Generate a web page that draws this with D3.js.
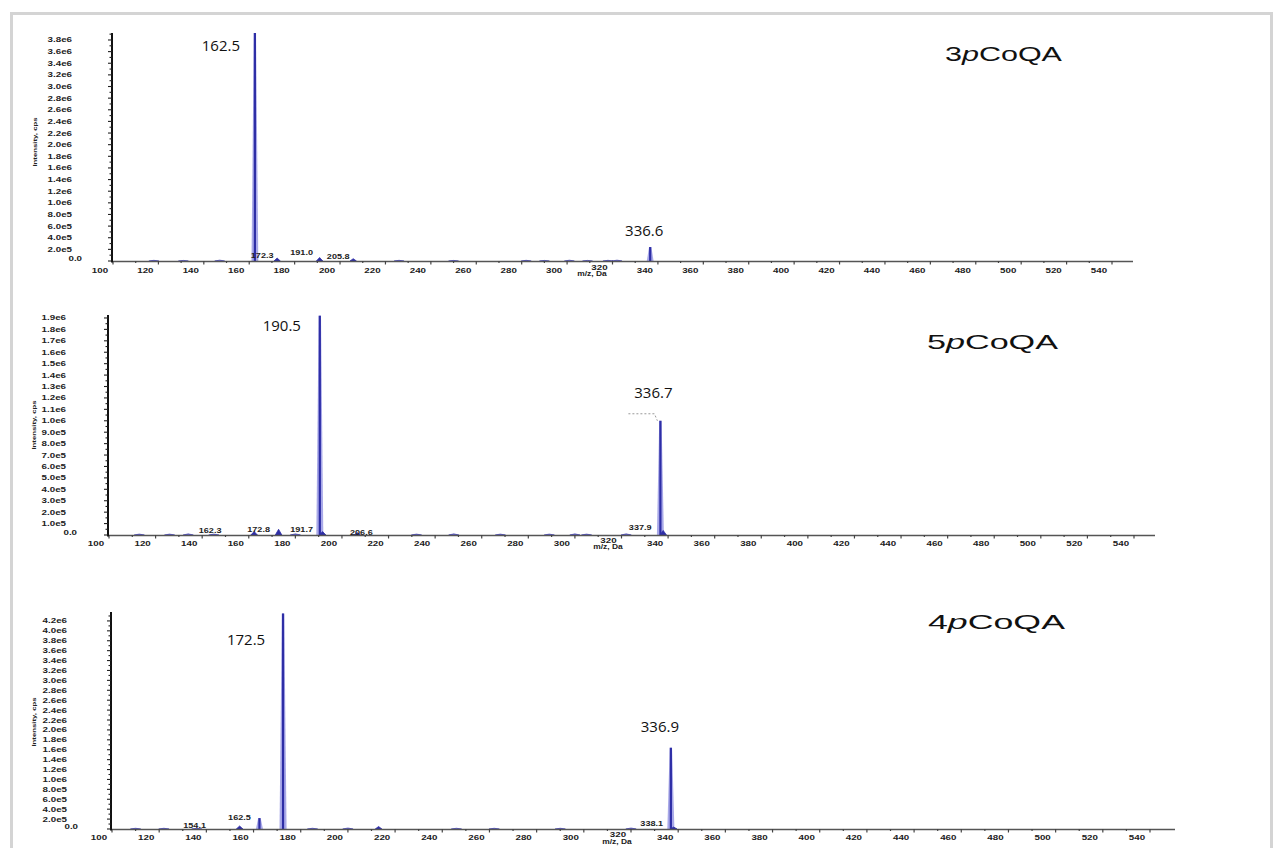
<!DOCTYPE html>
<html>
<head>
<meta charset="utf-8">
<script src="https://cdn.jsdelivr.net/npm/d3@7"></script>
<style>
  body { margin: 0; background: #fff; }
  svg { display: block; }
  .tick-label { font-family: "Liberation Sans", Arial, sans-serif; font-weight: bold; fill: #222; }
</style>
</head>
<body>
<svg id="chart" width="1277" height="848"></svg>
<script>
// ---- m/z axis (shared) ----
const mzTicks = [100,120,140,160,180,200,220,240,260,280,300,320,340,360,380,400,420,440,460,480,500,520,540];
const mzTickLabels = ["100","120","140","160","180","200","220","240","260","280","300","320","340","360","380","400","420","440","460","480","500","520","540"];

// ---- 3pCoQA ----
const mz3p  = [162.5, 172.3, 191.0, 205.8, 336.6];
const int3p = [3.92e6, 5.0e4, 6.0e4, 4.0e4, 2.4e5];
const noiseMz3p  = [118, 131, 147, 226, 250, 282, 290, 301, 309, 318, 322];
const noiseInt3p = [1.2e4, 1.0e4, 1.5e4, 1.2e4, 1.0e4, 1.2e4, 1.0e4, 1.4e4, 1.0e4, 1.2e4, 1.5e4];
const annot3p = [162.5, 336.6];
const small3p = [172.3, 191.0, 205.8];
const yTicks3p = [0,2e5,4e5,6e5,8e5,1.0e6,1.2e6,1.4e6,1.6e6,1.8e6,2.0e6,2.2e6,2.4e6,2.6e6,2.8e6,3.0e6,3.2e6,3.4e6,3.6e6,3.8e6];
const yLabels3p = ["0.0","2.0e5","4.0e5","6.0e5","8.0e5","1.0e6","1.2e6","1.4e6","1.6e6","1.8e6","2.0e6","2.2e6","2.4e6","2.6e6","2.8e6","3.0e6","3.2e6","3.4e6","3.6e6","3.8e6"];

// ---- 5pCoQA ----
const mz5p  = [162.3, 172.8, 190.5, 191.7, 206.6, 336.7, 337.9];
const int5p = [3.0e4, 5.0e4, 1.92e6, 3.0e4, 2.0e4, 1.0e6, 4.0e4];
const noiseMz5p  = [113, 126, 134, 145, 180, 232, 248, 268, 289, 300, 305, 322];
const noiseInt5p = [8e3, 8e3, 1.0e4, 8e3, 1.0e4, 8e3, 1.0e4, 8e3, 8e3, 1.0e4, 8e3, 1.0e4];
const annot5p = [190.5, 336.7];
const small5p = [162.3, 172.8, 191.7, 206.6, 337.9];
const yTicks5p = [0,1e5,2e5,3e5,4e5,5e5,6e5,7e5,8e5,9e5,1.0e6,1.1e6,1.2e6,1.3e6,1.4e6,1.5e6,1.6e6,1.7e6,1.8e6,1.9e6];
const yLabels5p = ["0.0","1.0e5","2.0e5","3.0e5","4.0e5","5.0e5","6.0e5","7.0e5","8.0e5","9.0e5","1.0e6","1.1e6","1.2e6","1.3e6","1.4e6","1.5e6","1.6e6","1.7e6","1.8e6","1.9e6"];

// ---- 4pCoQA ----
const mz4p  = [154.1, 162.5, 172.5, 213.0, 336.9, 338.1];
const int4p = [6.0e4, 2.2e5, 4.35e6, 5.0e4, 1.64e6, 4.0e4];
const noiseMz4p  = [110, 122, 136, 185, 200, 246, 262, 290, 320];
const noiseInt4p = [1.5e4, 1.5e4, 1.5e4, 1.5e4, 2.0e4, 1.5e4, 1.5e4, 1.5e4, 2.0e4];
const annot4p = [172.5, 336.9];
const small4p = [154.1, 162.5, 338.1];
const yTicks4p = [0,2e5,4e5,6e5,8e5,1.0e6,1.2e6,1.4e6,1.6e6,1.8e6,2.0e6,2.2e6,2.4e6,2.6e6,2.8e6,3.0e6,3.2e6,3.4e6,3.6e6,3.8e6,4.0e6,4.2e6];
const yLabels4p = ["0.0","2.0e5","4.0e5","6.0e5","8.0e5","1.0e6","1.2e6","1.4e6","1.6e6","1.8e6","2.0e6","2.2e6","2.4e6","2.6e6","2.8e6","3.0e6","3.2e6","3.4e6","3.6e6","3.8e6","4.0e6","4.2e6"];

// ---- panel layout (pixels) ----
const panels = [
  { num: "3", mz: mz3p, inten: int3p, nMz: noiseMz3p, nInt: noiseInt3p, annot: annot3p, small: small3p,
    yTicks: yTicks3p, yLabels: yLabels3p,
    x0: 113, x540: 1112, axisEnd: 1133, yBase: 261, yTop: 33, yMax: 3.92e6,
    titleX: 945, titleY: 61, titleW: 117,
    annotDx: [-34, -6], annotY: [51, 236],
    smallDx: [-15, -18, -15], smallDy: [-3, -6, -2],
    yLabelRight: 72, zero: [82, 258], axisTitle: [37, 142], mzTitle: [592, 276], xLabelY: 273 },
  { num: "5", mz: mz5p, inten: int5p, nMz: noiseMz5p, nInt: noiseInt5p, annot: annot5p, small: small5p,
    yTicks: yTicks5p, yLabels: yLabels5p,
    x0: 109, x540: 1134, axisEnd: 1155, yBase: 535, yTop: 315, yMax: 1.926e6,
    titleX: 927, titleY: 349, titleW: 131,
    annotDx: [-38, -7], annotY: [331, 398],
    smallDx: [-44, -20, -21, 4, -23], smallDy: [-2, -3, -3, 0, -5],
    yLabelRight: 66, zero: [77, 532], axisTitle: [36, 425], mzTitle: [608, 549], xLabelY: 546 },
  { num: "4", mz: mz4p, inten: int4p, nMz: noiseMz4p, nInt: noiseInt4p, annot: annot4p, small: small4p,
    yTicks: yTicks4p, yLabels: yLabels4p,
    x0: 112, x540: 1150, axisEnd: 1175, yBase: 829, yTop: 612, yMax: 4.38e6,
    titleX: 928, titleY: 629, titleW: 137,
    annotDx: [-37, -11], annotY: [645, 732],
    smallDx: [-45, -20, -22], smallDy: [-1, -9, -3],
    yLabelRight: 67, zero: [78, 826], axisTitle: [36, 722], mzTitle: [617, 844], xLabelY: 840 }
];

const svg = d3.select("#chart");

// outer frame
svg.append("rect")
  .attr("x", 11.5).attr("y", 13.5).attr("width", 1260).attr("height", 900)
  .attr("fill", "none").attr("stroke", "#d4d4d4").attr("stroke-width", 3);

const peakDark = "#2e2ea6";
const peakLight = "#8c8ce0";
const stretch = 1.3; // horizontal stretch of small axis text

function smallText(g, x, y, str, size, anchor) {
  return g.append("text")
    .attr("class", "tick-label")
    .attr("font-size", size)
    .attr("text-anchor", anchor || "middle")
    .attr("transform", `translate(${x},${y}) scale(${stretch},1)`)
    .text(str);
}

panels.forEach(p => {
  const g = svg.append("g");
  const x = d3.scaleLinear().domain([100, 540]).range([p.x0, p.x540]);
  const y = d3.scaleLinear().domain([0, p.yMax]).range([p.yBase, p.yTop]);

  // baseline noise
  const noiseArea = d3.area().x(d => x(d[0])).y0(p.yBase).y1(d => y(d[1]));
  p.nMz.forEach((m, i) => {
    const h = p.nInt[i];
    g.append("path")
      .attr("d", noiseArea([[m - 2.2, 0], [m, h], [m + 2.2, 0]]))
      .attr("fill", peakLight).attr("stroke", peakDark).attr("stroke-width", 0.6);
  });

  // peaks
  const peakArea = d3.area().x(d => x(d[0])).y0(p.yBase).y1(d => y(d[1]));
  p.mz.forEach((m, i) => {
    const h = p.inten[i];
    const big = h > 1.5e5;
    if (big) {
      g.append("path")
        .attr("d", peakArea([[m - 1.5, 0], [m - 0.5, h], [m + 0.5, h], [m + 1.5, 0]]))
        .attr("fill", peakLight).attr("fill-opacity", 0.75);
      g.append("line")
        .attr("x1", x(m)).attr("x2", x(m))
        .attr("y1", p.yBase).attr("y2", y(h))
        .attr("stroke", peakDark).attr("stroke-width", 2.2);
    } else {
      g.append("path")
        .attr("d", peakArea([[m - 1.4, 0], [m, h], [m + 1.4, 0]]))
        .attr("fill", peakDark).attr("stroke", peakDark).attr("stroke-width", 0.8);
    }
  });

  // x axis line
  g.append("line")
    .attr("x1", p.x0).attr("x2", p.axisEnd)
    .attr("y1", p.yBase + 0.5).attr("y2", p.yBase + 0.5)
    .attr("stroke", "#555").attr("stroke-width", 1.6);
  // x ticks (major every 20, minor every 10)
  d3.range(100, 550, 10).forEach(v => {
    const major = v % 20 === 0;
    g.append("line")
      .attr("x1", x(v)).attr("x2", x(v))
      .attr("y1", p.yBase).attr("y2", p.yBase + (major ? 3.5 : 2))
      .attr("stroke", "#444").attr("stroke-width", 1.2);
  });
  mzTicks.forEach((v, i) => {
    const lift = v === 320 ? -3 : 0;
    smallText(g, x(v) - 13, p.xLabelY + lift, mzTickLabels[i], 7.5);
  });
  smallText(g, p.mzTitle[0], p.mzTitle[1], "m/z, Da", 6.5);

  // y axis line
  g.append("line")
    .attr("x1", p.x0 - 1).attr("x2", p.x0 - 1)
    .attr("y1", p.yTop).attr("y2", p.yBase + 1.5)
    .attr("stroke", "#111").attr("stroke-width", 2);
  // y ticks: major at labels, minor halfway
  const step = p.yTicks[1] - p.yTicks[0];
  d3.range(0, p.yMax, step / 2).forEach((v, k) => {
    const major = k % 2 === 0;
    g.append("line")
      .attr("x1", p.x0 - 1).attr("x2", p.x0 - 1 - (major ? 4 : 2.5))
      .attr("y1", y(v)).attr("y2", y(v))
      .attr("stroke", "#222").attr("stroke-width", 1.1);
  });
  p.yTicks.forEach((v, i) => {
    if (v === 0) {
      smallText(g, p.zero[0], p.zero[1] + 2.5, p.yLabels[i], 7.5, "end");
    } else {
      smallText(g, p.yLabelRight, y(v) + 2.5, p.yLabels[i], 7.5, "end");
    }
  });
  // y axis title
  g.append("text")
    .attr("class", "tick-label")
    .attr("font-size", 6)
    .attr("text-anchor", "middle")
    .attr("transform", `translate(${p.axisTitle[0]},${p.axisTitle[1]}) rotate(-90) scale(${stretch},1)`)
    .text("Intensity, cps");

  // small instrument peak labels
  p.small.forEach((m, i) => {
    smallText(g, x(m) + p.smallDx[i], p.yBase + p.smallDy[i], m.toFixed(1), 7);
  });

  // annotated peak values
  p.annot.forEach((m, i) => {
    g.append("text")
      .attr("x", x(m) + p.annotDx[i]).attr("y", p.annotY[i])
      .attr("text-anchor", "middle")
      .attr("font-family", "'Open Sans', 'Liberation Sans', sans-serif")
      .attr("font-size", 15)
      .attr("fill", "#111")
      .text(m.toFixed(1));
  });

  // leader for the precursor label in the 5pCoQA spectrum
  if (p.num === "5") {
    const m = p.annot[1];
    const h = p.inten[p.mz.indexOf(m)];
    g.append("path")
      .attr("d", `M${x(m) - 32},${y(h) - 7}H${x(m) - 6}L${x(m) - 3},${y(h)}`)
      .attr("fill", "none").attr("stroke", "#999").attr("stroke-width", 1)
      .attr("stroke-dasharray", "2,2");
  }

  // title: e.g. 3pCoQA with italic p
  const t = g.append("text")
    .attr("font-family", "'Liberation Sans', Arial, sans-serif")
    .attr("font-size", 21)
    .attr("fill", "#111");
  t.append("tspan").text(p.num);
  t.append("tspan").attr("font-style", "italic").text("p");
  t.append("tspan").text("CoQA");
  const w = t.node().getComputedTextLength();
  t.attr("transform", `translate(${p.titleX},${p.titleY}) scale(${p.titleW / w},1)`);
});
</script>
</body>
</html>
